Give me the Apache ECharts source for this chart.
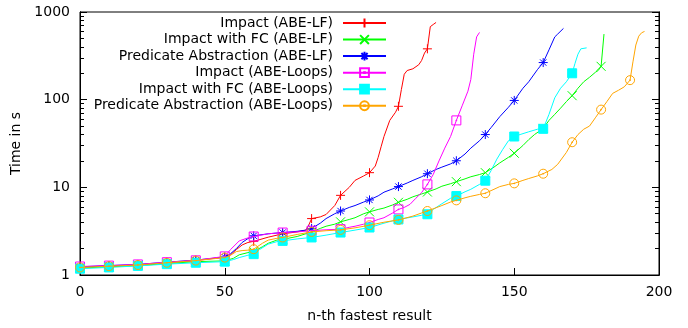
<!DOCTYPE html>
<html>
<head>
<meta charset="utf-8">
<script src="https://cdn.jsdelivr.net/npm/echarts@6/dist/echarts.min.js"></script>
<style>html,body{margin:0;padding:0;background:#fff}#c{width:688px;height:328px}</style>
</head>
<body>
<div id="c"></div>
<script>
var seriesNames = ["Impact (ABE-LF)", "Impact with FC (ABE-LF)", "Predicate Abstraction (ABE-LF)",
  "Impact (ABE-Loops)", "Impact with FC (ABE-Loops)", "Predicate Abstraction (ABE-Loops)"];
var xTicks = [0, 50, 100, 150, 200];
var yTicks = [1, 10, 100, 1000];
var yMinorTicks = [2,3,4,5,6,7,8,9,20,30,40,50,60,70,80,90,200,300,400,500,600,700,800,900];

var impactLF = [[0,1.23],[10,1.27],[20,1.3],[30,1.38],[40,1.46],[50,1.6],[52,1.7],[54,1.95],[56,2.2],[58,2.35],[60,2.42],[65,2.7],[70,2.95],[75,3.1],[78,3.25],[79,3.7],[80,4.4],[83,4.6],[85,4.9],[88,6.2],[90,8.1],[93,10],[95,12],[98,13.5],[100,14.7],[102,17.5],[103,22],[104,29],[105,38],[107,58],[109,72],[110,84],[111,130],[112,195],[113,215],[115,225],[117,250],[118,280],[119,340],[120,380],[121,680],[122,720],[123,760]];
var impactFcLF = [[0,1.2],[10,1.24],[20,1.28],[30,1.35],[40,1.42],[50,1.45],[53,1.55],[55,1.7],[58,1.8],[60,1.85],[63,2.1],[65,2.3],[68,2.5],[70,2.55],[75,2.75],[80,3.1],[83,3.4],[85,3.6],[88,3.8],[90,4.04],[93,4.3],[95,4.5],[98,5.0],[100,5.25],[103,5.6],[105,5.8],[108,6.3],[110,6.75],[113,7.3],[115,7.8],[118,8.4],[120,8.84],[123,9.6],[125,10.3],[128,11],[130,11.6],[133,12.5],[135,13.2],[138,14],[140,14.7],[143,17],[145,19],[148,22],[150,24.5],[153,30],[155,35],[157,40],[160,47],[162,58],[164,68],[166,80],[168,95],[170,111],[172,135],[174,160],[176,180],[178,205],[179,215],[180,240],[181,560]];
var predAbsLF = [[0,1.24],[10,1.28],[20,1.32],[30,1.4],[40,1.48],[50,1.6],[52,1.75],[54,2.0],[56,2.35],[58,2.6],[60,2.8],[65,2.95],[70,3.05],[75,3.15],[78,3.25],[80,3.4],[83,3.9],[85,4.4],[88,5.0],[90,5.37],[93,5.9],[95,6.2],[98,6.8],[100,7.18],[103,8.0],[105,8.8],[108,9.6],[110,10.2],[113,11.2],[115,12],[118,13.2],[120,14.3],[123,16],[125,17],[128,18.5],[130,20.1],[133,24],[135,28],[138,34],[140,40],[142,48],[145,64],[148,82],[150,98],[153,135],[155,160],[158,220],[160,265],[162,370],[164,520],[165,560],[167,650]];
var impactLoops = [[0,1.25],[10,1.28],[20,1.32],[30,1.4],[40,1.47],[50,1.63],[52,1.95],[55,2.45],[58,2.65],[60,2.75],[65,2.95],[70,3.05],[75,3.1],[80,3.2],[85,3.28],[90,3.33],[93,3.5],[95,3.6],[98,3.8],[100,3.97],[103,4.3],[105,4.5],[108,5.1],[110,5.6],[112,5.9],[114,6.4],[116,7.5],[118,8.7],[120,10.8],[122,14],[124,20],[126,28],[128,38],[130,58],[132,85],[134,125],[135,170],[136,330],[137,520],[138,585]];
var impactFcLoops = [[0,1.18],[10,1.22],[20,1.27],[30,1.33],[40,1.38],[50,1.42],[53,1.5],[55,1.58],[58,1.68],[60,1.73],[62,1.95],[65,2.25],[68,2.4],[70,2.45],[75,2.58],[80,2.68],[85,2.85],[90,3.05],[95,3.25],[100,3.48],[105,3.9],[108,4.15],[110,4.3],[115,4.6],[118,4.8],[120,4.93],[122,5.6],[125,6.5],[128,7.5],[130,7.95],[133,8.9],[135,9.5],[138,10.8],[140,11.9],[142,15.5],[144,21],[146,27],[148,34],[150,38],[152,40],[155,43],[158,46],[160,46.5],[162,68],[164,105],[166,135],[168,160],[170,200],[171,260],[172,330],[173,380],[175,390]];
var predAbsLoops = [[0,1.22],[10,1.26],[20,1.3],[30,1.38],[40,1.46],[50,1.58],[52,1.68],[54,1.85],[56,1.9],[58,1.92],[60,1.97],[63,2.3],[65,2.5],[68,2.62],[70,2.68],[75,2.9],[80,3.1],[85,3.2],[90,3.27],[95,3.45],[100,3.7],[105,4.0],[110,4.25],[115,4.7],[118,5.1],[120,5.37],[125,6.2],[128,6.8],[130,7.1],[133,7.6],[135,7.9],[138,8.3],[140,8.56],[143,9.5],[145,10.2],[148,10.8],[150,11.1],[153,12],[155,12.6],[158,13.5],[160,14.3],[163,16],[165,18.3],[168,25],[170,32.7],[172,40],[174,46],[176,50],[178,62],[180,77],[182,95],[184,118],[186,128],[188,140],[190,167],[191,270],[192,420],[193,530],[194,580],[195,600]];

var allData = [impactLF, impactFcLF, predAbsLF, impactLoops, impactFcLoops, predAbsLoops];
var colors = ['#ff0000', '#00ff00', '#0000ff', '#ff00ff', '#00ffff', '#ffa500'];
var symbols = [
  'path://M5,0L5,10M0,5L10,5',
  'path://M0,0L10,10M10,0L0,10',
  'path://M5,0L5,10M0,5L10,5M1.5,1.5L8.5,8.5M8.5,1.5L1.5,8.5',
  'path://M0,0L10,0L10,10L0,10Z M4.6,4.6L5.4,4.6L5.4,5.4L4.6,5.4Z',
  'rect',
  'path://M5,0A5,5,0,1,1,4.99,0Z M4.6,4.6L5.4,4.6L5.4,5.4L4.6,5.4Z'
];
var fills = ['transparent', 'transparent', 'transparent', 'transparent', '#00ffff', 'transparent'];

var font = 'DejaVu Sans';
var chart = echarts.init(document.getElementById('c'), null, {renderer: 'canvas'});

var series = allData.map(function (d, i) {
  return {
    name: seriesNames[i],
    type: 'line',
    data: d,
    yAxisIndex: 0,
    symbol: symbols[i],
    symbolSize: function (v) { return (v[0] % 10 === 0) ? 9 : 0; },
    showAllSymbol: true,
    animation: false,
    lineStyle: {color: colors[i], width: 1},
    itemStyle: {color: fills[i], borderColor: colors[i], borderWidth: 1},
    emphasis: {disabled: true},
    z: 2 + i
  };
});

var legends = seriesNames.map(function (n, i) {
  return {
    data: [n],
    right: 301,
    top: 15 + 16.55 * i,
    orient: 'vertical',
    align: 'right',
    padding: 0,
    itemWidth: 43,
    itemHeight: 11,
    selectedMode: false,
    textStyle: {fontFamily: font, fontSize: 14, color: '#000', padding: [0, 5, 0, 0], lineHeight: 16}
  };
});

function yAx(pos, ticks, len, labels, name) {
  return {
    type: 'log', logBase: 10, min: 1, max: 1000, position: pos,
    name: name || '', nameLocation: 'middle', nameGap: 54,
    nameTextStyle: {fontFamily: font, fontSize: 14, color: '#000'},
    axisLine: {show: true, lineStyle: {color: '#000', width: 1}},
    axisTick: {show: true, inside: true, length: len, customValues: ticks, lineStyle: {color: '#000', width: 1}},
    axisLabel: {show: labels, customValues: labels ? ticks : undefined, fontFamily: font, fontSize: 14, color: '#000', margin: 10,
      formatter: function (v) { return String(Math.round(v)); }},
    minorTick: {show: false},
    splitLine: {show: false}
  };
}

chart.setOption({
  animation: false,
  color: colors,
  grid: {left: 80, right: 29, top: 12, bottom: 52, show: true, borderColor: '#000', borderWidth: 1, backgroundColor: 'transparent'},
  legend: legends,
  xAxis: [{
    type: 'value', min: 0, max: 200, interval: 50, position: 'bottom',
    name: 'n-th fastest result', nameLocation: 'middle', nameGap: 34,
    nameTextStyle: {fontFamily: font, fontSize: 14, color: '#000'},
    axisLine: {show: true, onZero: false, lineStyle: {color: '#000', width: 1}},
    axisTick: {show: true, inside: true, length: 7, lineStyle: {color: '#000'}},
    axisLabel: {fontFamily: font, fontSize: 14, color: '#000', margin: 10},
    splitLine: {show: false}
  }],
  yAxis: [
    yAx('left', yTicks, 7, true, 'Time in s'),
    yAx('right', yTicks, 7, false),
    yAx('left', yMinorTicks, 4, false),
    yAx('right', yMinorTicks, 4, false)
  ],
  series: series
});
</script>
</body>
</html>
